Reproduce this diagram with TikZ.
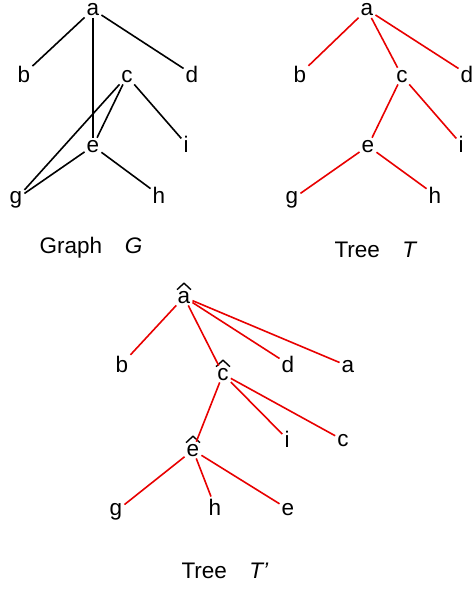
\documentclass[tikz,border=0pt]{standalone}
\usepackage{fontspec}
\setmainfont{Liberation Sans}
\usetikzlibrary{positioning}
\definecolor{treered}{RGB}{232,0,0}
\newcommand\hatover[1]{\draw[hatmark] ([xshift=-7pt,yshift=-1pt]#1.north) -- ([yshift=5.5pt]#1.north) -- ([xshift=7pt,yshift=-1pt]#1.north);}

\begin{document}
\begin{tikzpicture}[x=1pt, y=-1pt, v/.style={anchor=base, inner sep=2pt, font=\fontsize{22.5}{26}\selectfont}, title/.style={anchor=base, font=\fontsize{22.5}{26}\selectfont}, gl/.style={draw=black, line width=1.6pt}, tl/.style={draw=treered, line width=1.6pt}, hatmark/.style={draw=black, line width=1.4pt, line join=round}]
\useasboundingbox (0,0) rectangle (472,589);
% Graph G
\node[v] (ga) at (93,15.5) {a};
\node[v] (gb) at (24,82) {b};
\node[v] (gc) at (127,82) {c};
\node[v] (gd) at (192,82) {d};
\node[v] (ge) at (93,152) {e};
\node[v] (gi) at (186,152) {i};
\node[v] (gg) at (16,203) {g};
\node[v] (gh) at (159,203) {h};
\node[title] (gcap) at (91,253) {Graph\quad\textit{G}};
\draw[gl] (ga) -- (gb);
\draw[gl] (ga) -- (gd);
\draw[gl] (ga) -- (ge);
\draw[gl] (gc) -- (gg);
\draw[gl] (gc) -- (ge);
\draw[gl] (gc) -- (gi);
\draw[gl] (ge) -- (gg);
\draw[gl] (ge) -- (gh);
% Tree T
\node[v] (ta) at (367,15.5) {a};
\node[v] (tb) at (300,82) {b};
\node[v] (tc) at (402,82) {c};
\node[v] (td) at (467,82) {d};
\node[v] (te) at (368,152) {e};
\node[v] (ti) at (461,152) {i};
\node[v] (tg) at (292,203) {g};
\node[v] (th) at (435,203) {h};
\node[title] (tcap) at (376,257) {Tree\quad\textit{T}};
\draw[tl] (ta) -- (tb);
\draw[tl] (ta) -- (tc);
\draw[tl] (ta) -- (td);
\draw[tl] (tc) -- (te);
\draw[tl] (tc) -- (ti);
\draw[tl] (te) -- (tg);
\draw[tl] (te) -- (th);
% Tree T'
\node[v] (ua) at (184,303) {a};
\node[v] (ub) at (122,372) {b};
\node[v] (uc) at (223,380) {c};
\node[v] (ud) at (288,372) {d};
\node[v] (ua2) at (348,372) {a};
\node[v] (ue) at (193,456) {e};
\node[v] (ui) at (287,447) {i};
\node[v] (uc2) at (343,446) {c};
\node[v] (ug) at (116,515) {g};
\node[v] (uh) at (215,515) {h};
\node[v] (ue2) at (288,515) {e};
\node[title] (ucap) at (225,578) {Tree\quad\textit{T’}};
\hatover{ua}
\hatover{uc}
\hatover{ue}
\draw[tl] (ua) -- (ub);
\draw[tl] (ua) -- (uc);
\draw[tl] (ua) -- (ud);
\draw[tl] (ua) -- (ua2);
\draw[tl] (uc) -- (ue);
\draw[tl] (uc) -- (ui);
\draw[tl] (uc) -- (uc2);
\draw[tl] (ue) -- (ug);
\draw[tl] (ue) -- (uh);
\draw[tl] (ue) -- (ue2);
\end{tikzpicture}
\end{document}
